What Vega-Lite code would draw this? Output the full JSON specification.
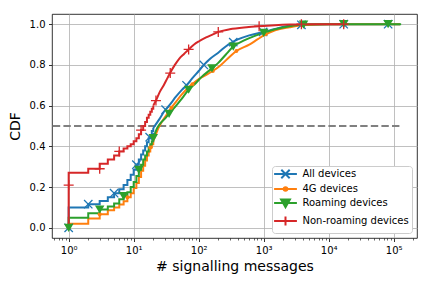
{
  "$schema": "https://vega.github.io/schema/vega-lite/v6.json",
  "width": 365,
  "height": 224,
  "autosize": "none",
  "padding": {"left": 52, "top": 14, "right": 15, "bottom": 50},
  "config": {
    "view": {"stroke": "black", "strokeWidth": 0.8},
    "font": "DejaVu Sans",
    "axis": {
      "labelFont": "DejaVu Sans", "labelFontSize": 10, "labelColor": "black",
      "titleFont": "DejaVu Sans", "titleFontSize": 14, "titleFontWeight": "normal", "titleColor": "black",
      "tickColor": "black", "tickSize": 3.5, "tickWidth": 0.8,
      "gridColor": "#b0b0b0", "gridWidth": 0.8, "gridOpacity": 1,
      "domain": false, "labelPadding": 3.5
    }
  },
  "datasets": {
    "cdf": [
      {"series": "All devices", "x": 1, "y": 0},
      {"series": "All devices", "x": 1, "y": 0.10},
      {"series": "All devices", "x": 2, "y": 0.116},
      {"series": "All devices", "x": 3, "y": 0.132},
      {"series": "All devices", "x": 4, "y": 0.15},
      {"series": "All devices", "x": 5, "y": 0.17},
      {"series": "All devices", "x": 6, "y": 0.19},
      {"series": "All devices", "x": 7, "y": 0.21},
      {"series": "All devices", "x": 8, "y": 0.235},
      {"series": "All devices", "x": 9, "y": 0.26},
      {"series": "All devices", "x": 10, "y": 0.285},
      {"series": "All devices", "x": 11, "y": 0.31},
      {"series": "All devices", "x": 12, "y": 0.335},
      {"series": "All devices", "x": 13, "y": 0.36},
      {"series": "All devices", "x": 14, "y": 0.38},
      {"series": "All devices", "x": 15, "y": 0.40},
      {"series": "All devices", "x": 16, "y": 0.42},
      {"series": "All devices", "x": 17, "y": 0.44},
      {"series": "All devices", "x": 18, "y": 0.455},
      {"series": "All devices", "x": 19, "y": 0.475},
      {"series": "All devices", "x": 20, "y": 0.49},
      {"series": "All devices", "x": 25, "y": 0.535},
      {"series": "All devices", "x": 30, "y": 0.575},
      {"series": "All devices", "x": 35, "y": 0.60},
      {"series": "All devices", "x": 45, "y": 0.645},
      {"series": "All devices", "x": 56, "y": 0.68},
      {"series": "All devices", "x": 65, "y": 0.70},
      {"series": "All devices", "x": 80, "y": 0.735},
      {"series": "All devices", "x": 100, "y": 0.77},
      {"series": "All devices", "x": 120, "y": 0.80},
      {"series": "All devices", "x": 150, "y": 0.83},
      {"series": "All devices", "x": 200, "y": 0.86},
      {"series": "All devices", "x": 285, "y": 0.90},
      {"series": "All devices", "x": 400, "y": 0.925},
      {"series": "All devices", "x": 600, "y": 0.945},
      {"series": "All devices", "x": 1000, "y": 0.962},
      {"series": "All devices", "x": 1500, "y": 0.977},
      {"series": "All devices", "x": 2200, "y": 0.99},
      {"series": "All devices", "x": 3800, "y": 0.997},
      {"series": "All devices", "x": 10000, "y": 1.0},
      {"series": "All devices", "x": 125000, "y": 1.0},

      {"series": "4G devices", "x": 1, "y": 0},
      {"series": "4G devices", "x": 1, "y": 0.02},
      {"series": "4G devices", "x": 2, "y": 0.046},
      {"series": "4G devices", "x": 3, "y": 0.067},
      {"series": "4G devices", "x": 4, "y": 0.086},
      {"series": "4G devices", "x": 5, "y": 0.10},
      {"series": "4G devices", "x": 6, "y": 0.115},
      {"series": "4G devices", "x": 7, "y": 0.13},
      {"series": "4G devices", "x": 8, "y": 0.15},
      {"series": "4G devices", "x": 9, "y": 0.17},
      {"series": "4G devices", "x": 10, "y": 0.195},
      {"series": "4G devices", "x": 11, "y": 0.22},
      {"series": "4G devices", "x": 12, "y": 0.25},
      {"series": "4G devices", "x": 13, "y": 0.28},
      {"series": "4G devices", "x": 14, "y": 0.305},
      {"series": "4G devices", "x": 15, "y": 0.33},
      {"series": "4G devices", "x": 16, "y": 0.355},
      {"series": "4G devices", "x": 17, "y": 0.375},
      {"series": "4G devices", "x": 18, "y": 0.395},
      {"series": "4G devices", "x": 19, "y": 0.41},
      {"series": "4G devices", "x": 20, "y": 0.425},
      {"series": "4G devices", "x": 22, "y": 0.46},
      {"series": "4G devices", "x": 24, "y": 0.49},
      {"series": "4G devices", "x": 27, "y": 0.52},
      {"series": "4G devices", "x": 32, "y": 0.555},
      {"series": "4G devices", "x": 38, "y": 0.59},
      {"series": "4G devices", "x": 45, "y": 0.62},
      {"series": "4G devices", "x": 55, "y": 0.655},
      {"series": "4G devices", "x": 70, "y": 0.69},
      {"series": "4G devices", "x": 90, "y": 0.72},
      {"series": "4G devices", "x": 120, "y": 0.745},
      {"series": "4G devices", "x": 165, "y": 0.77},
      {"series": "4G devices", "x": 220, "y": 0.80},
      {"series": "4G devices", "x": 300, "y": 0.84},
      {"series": "4G devices", "x": 380, "y": 0.868},
      {"series": "4G devices", "x": 600, "y": 0.90},
      {"series": "4G devices", "x": 800, "y": 0.925},
      {"series": "4G devices", "x": 1070, "y": 0.95},
      {"series": "4G devices", "x": 1500, "y": 0.97},
      {"series": "4G devices", "x": 2500, "y": 0.985},
      {"series": "4G devices", "x": 4000, "y": 0.995},
      {"series": "4G devices", "x": 10000, "y": 1.0},
      {"series": "4G devices", "x": 125000, "y": 1.0},

      {"series": "Roaming devices", "x": 1, "y": 0},
      {"series": "Roaming devices", "x": 1, "y": 0.05},
      {"series": "Roaming devices", "x": 2, "y": 0.072},
      {"series": "Roaming devices", "x": 3, "y": 0.09},
      {"series": "Roaming devices", "x": 4, "y": 0.105},
      {"series": "Roaming devices", "x": 5, "y": 0.12},
      {"series": "Roaming devices", "x": 6, "y": 0.14},
      {"series": "Roaming devices", "x": 7, "y": 0.156},
      {"series": "Roaming devices", "x": 8, "y": 0.175},
      {"series": "Roaming devices", "x": 9, "y": 0.20},
      {"series": "Roaming devices", "x": 10, "y": 0.225},
      {"series": "Roaming devices", "x": 11, "y": 0.255},
      {"series": "Roaming devices", "x": 12, "y": 0.285},
      {"series": "Roaming devices", "x": 13, "y": 0.31},
      {"series": "Roaming devices", "x": 14, "y": 0.335},
      {"series": "Roaming devices", "x": 15, "y": 0.355},
      {"series": "Roaming devices", "x": 16, "y": 0.375},
      {"series": "Roaming devices", "x": 17, "y": 0.395},
      {"series": "Roaming devices", "x": 18, "y": 0.41},
      {"series": "Roaming devices", "x": 19, "y": 0.425},
      {"series": "Roaming devices", "x": 20, "y": 0.44},
      {"series": "Roaming devices", "x": 23, "y": 0.49},
      {"series": "Roaming devices", "x": 26, "y": 0.515},
      {"series": "Roaming devices", "x": 30, "y": 0.535},
      {"series": "Roaming devices", "x": 35, "y": 0.56},
      {"series": "Roaming devices", "x": 45, "y": 0.60},
      {"series": "Roaming devices", "x": 55, "y": 0.635},
      {"series": "Roaming devices", "x": 70, "y": 0.678},
      {"series": "Roaming devices", "x": 90, "y": 0.71},
      {"series": "Roaming devices", "x": 110, "y": 0.74},
      {"series": "Roaming devices", "x": 160, "y": 0.783},
      {"series": "Roaming devices", "x": 200, "y": 0.81},
      {"series": "Roaming devices", "x": 260, "y": 0.85},
      {"series": "Roaming devices", "x": 340, "y": 0.89},
      {"series": "Roaming devices", "x": 500, "y": 0.92},
      {"series": "Roaming devices", "x": 700, "y": 0.94},
      {"series": "Roaming devices", "x": 1000, "y": 0.957},
      {"series": "Roaming devices", "x": 1500, "y": 0.975},
      {"series": "Roaming devices", "x": 2500, "y": 0.99},
      {"series": "Roaming devices", "x": 4100, "y": 0.998},
      {"series": "Roaming devices", "x": 10000, "y": 1.0},
      {"series": "Roaming devices", "x": 130000, "y": 1.0},

      {"series": "Non-roaming devices", "x": 1, "y": 0},
      {"series": "Non-roaming devices", "x": 1, "y": 0.27},
      {"series": "Non-roaming devices", "x": 2, "y": 0.29},
      {"series": "Non-roaming devices", "x": 3, "y": 0.315},
      {"series": "Non-roaming devices", "x": 4, "y": 0.335},
      {"series": "Non-roaming devices", "x": 5, "y": 0.355},
      {"series": "Non-roaming devices", "x": 6, "y": 0.375},
      {"series": "Non-roaming devices", "x": 7, "y": 0.39},
      {"series": "Non-roaming devices", "x": 8, "y": 0.40},
      {"series": "Non-roaming devices", "x": 9, "y": 0.41},
      {"series": "Non-roaming devices", "x": 10, "y": 0.425},
      {"series": "Non-roaming devices", "x": 11, "y": 0.44},
      {"series": "Non-roaming devices", "x": 12, "y": 0.46},
      {"series": "Non-roaming devices", "x": 13, "y": 0.48},
      {"series": "Non-roaming devices", "x": 14, "y": 0.50},
      {"series": "Non-roaming devices", "x": 15, "y": 0.52},
      {"series": "Non-roaming devices", "x": 16, "y": 0.54},
      {"series": "Non-roaming devices", "x": 17, "y": 0.555},
      {"series": "Non-roaming devices", "x": 18, "y": 0.57},
      {"series": "Non-roaming devices", "x": 19, "y": 0.585},
      {"series": "Non-roaming devices", "x": 20, "y": 0.60},
      {"series": "Non-roaming devices", "x": 22, "y": 0.625},
      {"series": "Non-roaming devices", "x": 25, "y": 0.665},
      {"series": "Non-roaming devices", "x": 29, "y": 0.70},
      {"series": "Non-roaming devices", "x": 33, "y": 0.735},
      {"series": "Non-roaming devices", "x": 37, "y": 0.765},
      {"series": "Non-roaming devices", "x": 43, "y": 0.80},
      {"series": "Non-roaming devices", "x": 50, "y": 0.83},
      {"series": "Non-roaming devices", "x": 60, "y": 0.855},
      {"series": "Non-roaming devices", "x": 70, "y": 0.876},
      {"series": "Non-roaming devices", "x": 85, "y": 0.90},
      {"series": "Non-roaming devices", "x": 100, "y": 0.915},
      {"series": "Non-roaming devices", "x": 130, "y": 0.935},
      {"series": "Non-roaming devices", "x": 165, "y": 0.95},
      {"series": "Non-roaming devices", "x": 200, "y": 0.962},
      {"series": "Non-roaming devices", "x": 300, "y": 0.975},
      {"series": "Non-roaming devices", "x": 545, "y": 0.985},
      {"series": "Non-roaming devices", "x": 850, "y": 0.99},
      {"series": "Non-roaming devices", "x": 1500, "y": 0.995},
      {"series": "Non-roaming devices", "x": 2500, "y": 0.998},
      {"series": "Non-roaming devices", "x": 5000, "y": 1.0},
      {"series": "Non-roaming devices", "x": 19000, "y": 1.0}
    ],
    "markers": [
      {"series": "All devices", "x": 1, "y": 0},
      {"series": "All devices", "x": 2, "y": 0.116},
      {"series": "All devices", "x": 5, "y": 0.17},
      {"series": "All devices", "x": 11, "y": 0.31},
      {"series": "All devices", "x": 17.6, "y": 0.445},
      {"series": "All devices", "x": 31, "y": 0.58},
      {"series": "All devices", "x": 65, "y": 0.70},
      {"series": "All devices", "x": 120, "y": 0.80},
      {"series": "All devices", "x": 340, "y": 0.912},
      {"series": "All devices", "x": 980, "y": 0.962},
      {"series": "All devices", "x": 3800, "y": 0.997},
      {"series": "All devices", "x": 17000, "y": 1.0},
      {"series": "All devices", "x": 82000, "y": 1.0},
      {"series": "4G devices", "x": 1, "y": 0},
      {"series": "4G devices", "x": 3, "y": 0.067},
      {"series": "4G devices", "x": 8, "y": 0.15},
      {"series": "4G devices", "x": 18, "y": 0.395},
      {"series": "4G devices", "x": 38, "y": 0.59},
      {"series": "4G devices", "x": 80, "y": 0.705},
      {"series": "4G devices", "x": 165, "y": 0.77},
      {"series": "4G devices", "x": 380, "y": 0.868},
      {"series": "4G devices", "x": 1070, "y": 0.95},
      {"series": "4G devices", "x": 4000, "y": 0.995},
      {"series": "Roaming devices", "x": 1, "y": 0},
      {"series": "Roaming devices", "x": 3, "y": 0.09},
      {"series": "Roaming devices", "x": 7, "y": 0.156},
      {"series": "Roaming devices", "x": 12, "y": 0.285},
      {"series": "Roaming devices", "x": 20, "y": 0.44},
      {"series": "Roaming devices", "x": 35, "y": 0.56},
      {"series": "Roaming devices", "x": 70, "y": 0.678},
      {"series": "Roaming devices", "x": 160, "y": 0.783},
      {"series": "Roaming devices", "x": 340, "y": 0.89},
      {"series": "Roaming devices", "x": 1000, "y": 0.957},
      {"series": "Roaming devices", "x": 4100, "y": 0.998},
      {"series": "Roaming devices", "x": 17000, "y": 1.0},
      {"series": "Roaming devices", "x": 82000, "y": 1.0},
      {"series": "Non-roaming devices", "x": 1, "y": 0.21},
      {"series": "Non-roaming devices", "x": 3, "y": 0.29},
      {"series": "Non-roaming devices", "x": 6, "y": 0.375},
      {"series": "Non-roaming devices", "x": 13, "y": 0.48},
      {"series": "Non-roaming devices", "x": 22, "y": 0.625},
      {"series": "Non-roaming devices", "x": 36.5, "y": 0.76},
      {"series": "Non-roaming devices", "x": 70, "y": 0.876},
      {"series": "Non-roaming devices", "x": 200, "y": 0.962},
      {"series": "Non-roaming devices", "x": 850, "y": 0.99},
      {"series": "Non-roaming devices", "x": 3800, "y": 1.0},
      {"series": "Non-roaming devices", "x": 17000, "y": 1.0}
    ],
    "ref": [
      {"x": 0.57, "x2": 125000, "y": 0.5}
    ]
  },
  "encoding": {
    "y": {
      "field": "y", "type": "quantitative",
      "scale": {"domain": [-0.05, 1.05], "nice": false, "zero": false},
      "axis": {
        "values": [0, 0.2, 0.4, 0.6, 0.8, 1.0],
        "format": ".1f",
        "grid": true,
        "title": "CDF",
        "titlePadding": 7
      }
    }
  },
  "layer": [
    {
      "data": {"name": "ref"},
      "mark": {"type": "rule", "color": "#808080", "strokeWidth": 2, "strokeDash": [7.4, 3.2]},
      "encoding": {
        "x": {
          "field": "x", "type": "quantitative",
          "scale": {"type": "log", "domain": [0.554, 228000], "nice": false},
          "axis": {
            "orient": "bottom",
            "values": [1, 10, 100, 1000, 10000, 100000],
            "labelExpr": "'10' + ['⁰','¹','²','³','⁴','⁵'][round(log(datum.value)/LN10)]",
            "grid": true,
            "title": "# signalling messages",
            "titlePadding": 4
          }
        },
        "x2": {"field": "x2"}
      }
    },
    {
      "data": {"name": "cdf"},
      "transform": [{"filter": "datum.x <= 20"}],
      "mark": {"type": "line", "interpolate": "step-after", "strokeWidth": 2},
      "encoding": {
        "x": {
          "field": "x", "type": "quantitative",
          "axis": {
            "orient": "bottom",
            "values": [0.6, 0.7, 0.8, 0.9, 2, 3, 4, 5, 6, 7, 8, 9, 20, 30, 40, 50, 60, 70, 80, 90, 200, 300, 400, 500, 600, 700, 800, 900, 2000, 3000, 4000, 5000, 6000, 7000, 8000, 9000, 20000, 30000, 40000, 50000, 60000, 70000, 80000, 90000, 200000],
            "labels": false, "grid": false, "tickSize": 2, "tickWidth": 0.6, "title": null
          }
        },
        "color": {
          "field": "series", "type": "nominal",
          "scale": {
            "domain": ["All devices", "4G devices", "Roaming devices", "Non-roaming devices"],
            "range": ["#1f77b4", "#ff7f0e", "#2ca02c", "#d62728"]
          },
          "legend": {
            "title": null,
            "orient": "bottom-right",
            "offset": 5,
            "fillColor": "white",
            "strokeColor": "#cccccc",
            "cornerRadius": 3,
            "padding": 3,
            "labelFont": "DejaVu Sans",
            "labelFontSize": 10,
            "labelColor": "black",
            "symbolSize": 64,
            "symbolStrokeWidth": 2,
            "symbolOffset": 5.5,
            "labelOffset": 12,
            "rowPadding": 0,
            "encode": {
              "symbols": {
                "update": {
                  "shape": {"signal": "datum.value === 'All devices' ? 'M-2.85,0H2.85M-1.05,-1.05L1.05,1.05M-1.05,1.05L1.05,-1.05' : datum.value === '4G devices' ? 'M-2.85,0H2.85M-0.45,0A0.45,0.45 0 1,0 0.45,0A0.45,0.45 0 1,0 -0.45,0' : datum.value === 'Roaming devices' ? 'M-2.85,0H2.85M-1.1,-0.9L1.1,-0.9L0,1.05Z' : 'M-2.85,0H2.85M-1.1,0H1.1M0,-1.1V1.1'"},
                  "fill": {"signal": "scale('color', datum.value)"},
                  "stroke": {"signal": "scale('color', datum.value)"},
                  "strokeWidth": {"value": 2},
                  "opacity": {"value": 1}
                }
              }
            }
          }
        }
      }
    },
    {
      "data": {"name": "cdf"},
      "transform": [{"filter": "datum.x >= 20"}],
      "mark": {"type": "line", "interpolate": "monotone", "strokeWidth": 2},
      "encoding": {
        "x": {"field": "x", "type": "quantitative", "axis": null},
        "color": {"field": "series", "type": "nominal", "legend": null}
      }
    },
    {
      "data": {"name": "markers"},
      "transform": [{"filter": "datum.series === 'All devices'"}],
      "mark": {"type": "point", "filled": false, "color": "#1f77b4", "strokeWidth": 1.3, "opacity": 1, "shape": "M-1,-1L1,1M-1,1L1,-1", "size": 70},
      "encoding": {
        "x": {"field": "x", "type": "quantitative", "axis": null}
      }
    },
    {
      "data": {"name": "markers"},
      "transform": [{"filter": "datum.series === '4G devices'"}],
      "mark": {"type": "point", "filled": true, "color": "#ff7f0e", "opacity": 1, "shape": "circle", "size": 16},
      "encoding": {
        "x": {"field": "x", "type": "quantitative", "axis": null}
      }
    },
    {
      "data": {"name": "markers"},
      "transform": [{"filter": "datum.series === 'Roaming devices'"}],
      "mark": {"type": "point", "filled": true, "color": "#2ca02c", "opacity": 1, "shape": "triangle-down", "size": 90},
      "encoding": {
        "x": {"field": "x", "type": "quantitative", "axis": null}
      }
    },
    {
      "data": {"name": "markers"},
      "transform": [{"filter": "datum.series === 'Non-roaming devices'"}],
      "mark": {"type": "point", "filled": false, "color": "#d62728", "strokeWidth": 1.3, "opacity": 1, "shape": "M-1,0H1M0,-1V1", "size": 100},
      "encoding": {
        "x": {"field": "x", "type": "quantitative", "axis": null}
      }
    }
  ],
  "resolve": {"axis": {"x": "independent"}}
}
